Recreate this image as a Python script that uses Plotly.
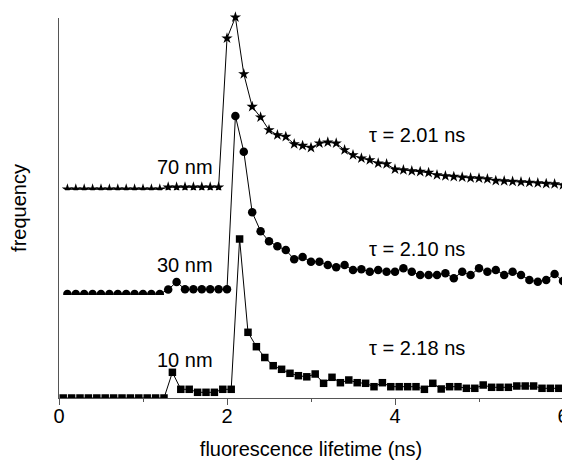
import plotly.graph_objects as go

# ---- data ----
lifetime_ns = [0.1, 0.2, 0.3, 0.4, 0.5, 0.6, 0.7, 0.8, 0.9, 1.0,
               1.1, 1.2, 1.3, 1.4, 1.5, 1.6, 1.7, 1.8, 1.9, 2.0,
               2.1, 2.2, 2.3, 2.4, 2.5, 2.6, 2.7, 2.8, 2.9, 3.0,
               3.1, 3.2, 3.3, 3.4, 3.5, 3.6, 3.7, 3.8, 3.9, 4.0,
               4.1, 4.2, 4.3, 4.4, 4.5, 4.6, 4.7, 4.8, 4.9, 5.0,
               5.1, 5.2, 5.3, 5.4, 5.5, 5.6, 5.7, 5.8, 5.9, 6.0]

lifetime_ns_10 = [0.05, 0.15, 0.25, 0.35, 0.45, 0.55, 0.65, 0.75, 0.85, 0.95,
                  1.05, 1.15, 1.25, 1.35, 1.45, 1.55, 1.65, 1.75, 1.85, 1.95,
                  2.05, 2.15, 2.25, 2.35, 2.45, 2.55, 2.65, 2.75, 2.85, 2.95,
                  3.05, 3.15, 3.25, 3.35, 3.45, 3.55, 3.65, 3.75, 3.85, 3.95,
                  4.05, 4.15, 4.25, 4.35, 4.45, 4.55, 4.65, 4.75, 4.85, 4.95,
                  5.05, 5.15, 5.25, 5.35, 5.45, 5.55, 5.65, 5.75, 5.85, 5.95]

freq_70nm = [1, 1, 1, 1, 1, 1, 1, 1, 1, 1,
             1, 1, 3, 3, 3, 3, 3, 3, 3, 152,
             173, 116.3, 83.6, 73, 60.3, 55.3, 53.6, 46.3, 44.6, 42.6,
             47, 48, 47, 40.3, 35.3, 32, 30.3, 27, 26.3, 21,
             20.3, 19.3, 18.6, 17.6, 15.3, 14.3, 13.6, 13, 12.3, 12,
             11.3, 9.6, 9.3, 8.8, 8.3, 7.8, 7.3, 6.6, 6.3, 5.3]

freq_30nm = [1, 1, 1, 1, 1, 1, 1, 1, 1, 1,
             1, 1, 5.5, 13, 5.7, 5.7, 5.7, 5.7, 5.7, 5.7,
             179, 143.3, 82.7, 63.8, 53.7, 48.7, 45, 35.7, 38, 33.3,
             33.3, 30, 27.7, 30, 25, 25.7, 23.3, 25, 23.3, 23.3,
             26.7, 23.3, 20, 20, 20, 21.7, 16.7, 23.3, 20, 26.7,
             23.3, 25, 20, 23.3, 20, 15, 13.3, 15, 21, 14]

freq_10nm = [0, 0, 0, 0, 0, 0, 0, 0, 0, 0,
             0, 0, 0, 25.7, 8.7, 8.7, 5.7, 5.7, 5.7, 8.7,
             8.7, 159, 65.7, 51.3, 40.5, 32.3, 28.7, 24.7, 22.3, 21.2,
             24, 14.7, 20.7, 15.3, 18, 15.3, 14.7, 11.3, 15.3, 11.3,
             11.3, 11.3, 11.3, 8.7, 14.7, 9, 11.3, 11.3, 9.7, 9.7,
             13, 10.7, 10.7, 10.7, 12, 12, 12, 9.7, 9.7, 9.7]

size_labels = ["70 nm", "30 nm", "10 nm"]
tau_labels = ["\u03c4 = 2.01 ns", "\u03c4 = 2.10 ns", "\u03c4 = 2.18 ns"]
x_ticks = [0, 2, 4, 6]

FONT = "Liberation Sans, Arial, sans-serif"
AX = "#555555"

fig = go.Figure()

fig.add_trace(go.Scatter(
    x=lifetime_ns_10, y=freq_10nm, mode="lines+markers", xaxis="x", yaxis="y",
    line=dict(color="black", width=1),
    marker=dict(symbol="square", size=7.5, color="black", line=dict(width=0)),
    cliponaxis=True, showlegend=False))

fig.add_trace(go.Scatter(
    x=lifetime_ns, y=freq_30nm, mode="lines+markers", xaxis="x", yaxis="y2",
    line=dict(color="black", width=1),
    marker=dict(symbol="circle", size=8.5, color="black", line=dict(width=0)),
    cliponaxis=True, showlegend=False))

fig.add_trace(go.Scatter(
    x=lifetime_ns, y=freq_70nm, mode="lines+markers", xaxis="x", yaxis="y3",
    line=dict(color="black", width=1),
    marker=dict(symbol="star", size=8.5, color="black", line=dict(width=0)),
    cliponaxis=True, showlegend=False))

# text annotations (positions in the 10 nm axis frame: 1 unit = 1 px)
ann_pos_size = [(1.5, 231), (1.5, 133), (1.5, 38)]
ann_pos_tau = [(4.26, 263), (4.26, 149), (4.26, 50)]
annotations = []
for t, (ax_, ay_) in zip(size_labels, ann_pos_size):
    annotations.append(dict(x=ax_, y=ay_, xref="x", yref="y", text=t, showarrow=False,
                            font=dict(family=FONT, size=20, color="black")))
for t, (ax_, ay_) in zip(tau_labels, ann_pos_tau):
    annotations.append(dict(x=ax_, y=ay_, xref="x", yref="y", text=t, showarrow=False,
                            font=dict(family=FONT, size=20, color="black")))

# the page has an 8 px body margin, so the figure is 8 px smaller on each side
W, H = 562, 452
top_m, bot_m = 0, 62
plot_h = H - top_m - bot_m  # 390
y_bottom = H - bot_m        # 390 (figure px)

def dom(px_bottom):
    return (y_bottom - px_bottom) / plot_h

clip_30 = 287.0   # figure px of the 30 nm baseline
clip_70 = 182.3   # figure px of the 70 nm baseline
axis_top = 10.0   # figure px of the top of the y axis line

fig.update_layout(
    width=W, height=H,
    margin=dict(l=51, r=7, t=top_m, b=bot_m, autoexpand=False),
    paper_bgcolor="white", plot_bgcolor="rgba(0,0,0,0)",
    font=dict(family=FONT, size=20, color="black"),
    annotations=annotations,
    xaxis=dict(range=[0, 6], anchor="y", tickvals=x_ticks, ticktext=[str(v) for v in x_ticks],
               ticks="outside", ticklen=6, tickcolor=AX, tickwidth=1, automargin=False,
               ticklabelstandoff=-6,
               showline=True, linecolor=AX, linewidth=1, showgrid=False, zeroline=False,
               minor=dict(tickvals=[1, 3, 5], ticks="outside", ticklen=3, tickcolor=AX, showgrid=False),
               tickfont=dict(family=FONT, size=20, color="black"),
               title=dict(text="fluorescence lifetime (ns)", standoff=23,
                          font=dict(family=FONT, size=20, color="black"))),
    yaxis=dict(domain=[0, (y_bottom - axis_top) / plot_h], range=[0, 380], automargin=False,
               showline=True, linecolor=AX, linewidth=1, showgrid=False, zeroline=False,
               ticks="", showticklabels=False,
               title=dict(text="frequency", standoff=30,
                          font=dict(family=FONT, size=20, color="black"))),
    yaxis2=dict(domain=[dom(clip_30), 1], range=[0, clip_30 - top_m], anchor="x",
                visible=False, showgrid=False, zeroline=False),
    yaxis3=dict(domain=[dom(clip_70), 1], range=[0, clip_70 - top_m], anchor="x",
                visible=False, showgrid=False, zeroline=False),
)

fig.write_html("out.html")
